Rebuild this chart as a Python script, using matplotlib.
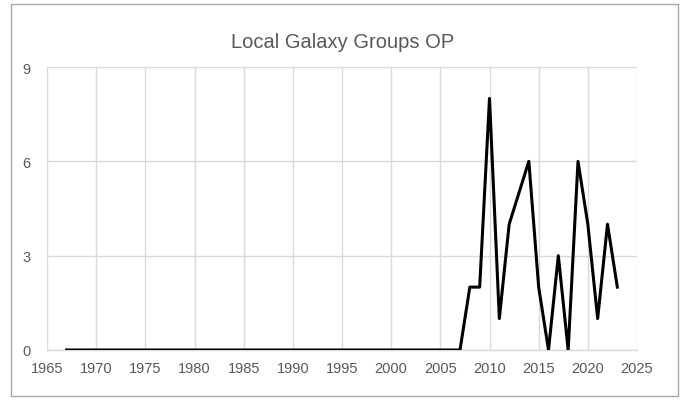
import matplotlib
matplotlib.use("Agg")
import matplotlib.pyplot as plt
from matplotlib.patches import Rectangle

# ---- Data ----
years = list(range(1967, 2024))
values = [0] * (2008 - 1967) + [2, 2, 8, 1, 4, 5, 6, 2, 0, 3, 0, 6, 4, 1, 4, 2]

x_ticks = list(range(1965, 2026, 5))
y_ticks = [0, 3, 6, 9]

TEXT_GRAY = "#595959"
GRID_GRAY = "#d9d9d9"

plt.rcParams["font.family"] = ["Liberation Sans Narrow", "Liberation Sans", "DejaVu Sans"]

fig = plt.figure(figsize=(6.86, 4.02), dpi=100)
ax = fig.add_axes([47 / 686, 1 - 351 / 402, 590 / 686, 283 / 402])

# outer chart border like Excel
fig.patches.append(Rectangle((11 / 686, 5 / 402), 667 / 686, 392 / 402,
                             transform=fig.transFigure, fill=False,
                             edgecolor="#a6a6a6", linewidth=1.0))

ax.plot(years, values, color="black", linewidth=2.2, zorder=3)

ax.set_xlim(1965, 2025)
ax.set_ylim(0, 9)
ax.set_xticks(x_ticks)
ax.set_yticks(y_ticks)
ax.grid(True, color=GRID_GRAY, linewidth=1.0)
ax.set_axisbelow(True)
for side in ["top", "right", "left"]:
    ax.spines[side].set_visible(False)
ax.spines["bottom"].set_color(GRID_GRAY)
ax.spines["bottom"].set_linewidth(1.0)
ax.tick_params(length=0, labelsize=10.5, colors=TEXT_GRAY, pad=8)
ax.tick_params(axis="y", pad=12)

fig.text(0.5, 1 - 42 / 402, "Local Galaxy Groups OP", ha="center", va="center",
         fontsize=14.5, color=TEXT_GRAY)

fig.savefig("out.png", dpi=100)
